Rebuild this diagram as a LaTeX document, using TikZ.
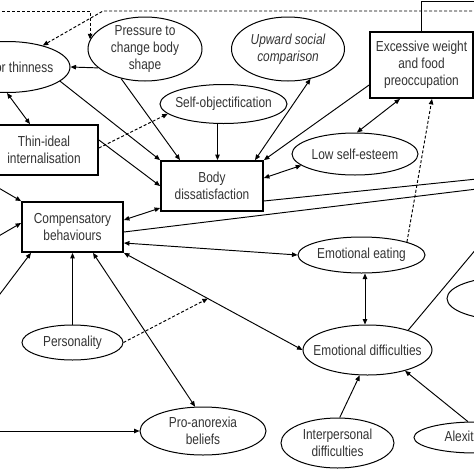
\documentclass[tikz,border=0pt]{standalone}
\usepackage{fontspec}
\setmainfont{Liberation Sans}[FakeStretch=0.82]
\usetikzlibrary{arrows.meta,shapes.geometric,calc}
\newcommand\dfont{\fontsize{14.5pt}{17pt}\selectfont}
\begin{document}
\begin{tikzpicture}[x=1pt,y=-1pt,
 boxn/.style={draw,rectangle,line width=1.8pt,inner sep=0pt,align=center,font=\dfont,text=black!80},
 elln/.style={draw,ellipse,line width=1pt,inner xsep=-30pt,inner ysep=-20pt,align=center,font=\dfont,text=black!80},
 arr/.style={line width=0.95pt,-{Triangle[length=5.5pt,width=4.5pt]}},
 darr/.style={line width=0.95pt,{Triangle[length=5.5pt,width=4.5pt]}-{Triangle[length=5.5pt,width=4.5pt]}},
 dsh/.style={dash pattern=on 3pt off 2pt},
 plainln/.style={line width=0.95pt}]
\useasboundingbox (0,0) rectangle (474,474);
\clip (0,0) rectangle (474,474);
\fill[white] (0,0) rectangle (474,474);

% nodes
\node[elln,minimum width=126pt,minimum height=51pt] (thin) at (7,67) {Drive for thinness};
\node[elln,minimum width=114pt,minimum height=64pt] (pressure) at (145,49) {Pressure to\\change body\\shape};
\node[elln,minimum width=113pt,minimum height=64pt,font=\dfont\itshape] (upward) at (288,49) {Upward social\\comparison};
\node[boxn,minimum width=103pt,minimum height=66pt] (excess) at (421.5,65) {Excessive weight\\and food\\preoccupation};
\node[elln,minimum width=127pt,minimum height=39pt] (selfobj) at (223.5,104) {Self-objectification};
\node[boxn,minimum width=108pt,minimum height=50pt] (thinideal) at (44,150) {Thin-ideal\\internalisation};
\node[boxn,minimum width=102pt,minimum height=50pt] (body) at (212,186) {Body\\dissatisfaction};
\node[elln,minimum width=126pt,minimum height=42pt] (lowse) at (355,154) {Low self-esteem};
\node[boxn,minimum width=101pt,minimum height=50pt] (comp) at (72.5,227) {Compensatory\\behaviours};
\node[elln,minimum width=127pt,minimum height=36pt] (emoeat) at (361.5,255) {Emotional eating};
\node[elln,minimum width=101pt,minimum height=35pt] (personality) at (72.5,342.5) {Personality};
\node[elln,minimum width=129pt,minimum height=50pt] (emodiff) at (367.5,350) {Emotional difficulties};
\node[elln,minimum width=126pt,minimum height=48pt] (proana) at (203,431) {Pro-anorexia\\beliefs};
\node[elln,minimum width=113pt,minimum height=50pt] (interp) at (337.5,443) {Interpersonal\\difficulties};
\node[elln,minimum width=122pt,minimum height=31pt] (alex) at (475,437.5) {Alexithymia};
\node[elln,minimum width=120pt,minimum height=43pt] (rightell) at (507,298.5) {};

% free ends
\coordinate (L1) at (-3,11);
\coordinate (c1) at (103,11);
\coordinate (R1) at (477,11);
\coordinate (R2) at (477,179);
\coordinate (R3) at (477,189);
\coordinate (R4) at (477,248);
\coordinate (R5) at (477,1.5);
\coordinate (L2) at (-3,431);
\coordinate (L3) at (-3,298);
\coordinate (L4) at (-3,237);
\coordinate (L5) at (-3,187);

% connectors
\draw[arr,dsh] (L1) -| (pressure.170);
\draw[arr,dsh] (R1) -- (c1) -- (thin.31);
\draw[plainln] (excess.north) |- (R5);
\draw[arr] (pressure.202) -- (thin.east);
\draw[darr] (thin.south) -- ([xshift=-14pt]thinideal.north);
\draw[arr] (thin.345.5) -- (body.north west);
\draw[arr] (pressure.231) -- ([xshift=-32pt]body.north);
\draw[arr] ([yshift=10pt]thinideal.east) -- (body.west);
\draw[arr,dsh] ([yshift=2pt]thinideal.east) -- (selfobj.190);
\draw[arr] ([xshift=-6pt]selfobj.south) -- ([xshift=-6pt]selfobj.south |- body.north);
\draw[darr] (upward.307.7) -- ([xshift=43pt]body.north);
\draw[arr] ([yshift=-20pt]excess.west) -- (body.north east);
\draw[darr] (lowse.192.6) -- ([yshift=8pt]body.east);
\draw[darr] (lowse.85) -- ([xshift=-21.5pt]excess.south);
\draw[arr,dsh] (emoeat.16) -- ([xshift=10.5pt]excess.south);
\draw[plainln] ([yshift=-15pt]body.east) -- (R2);
\draw[plainln] ([yshift=-5pt]comp.east) -- (R3);
\draw[darr] ([yshift=7pt]comp.east) -- ([yshift=-22pt]body.west);
\draw[darr] ([yshift=-16pt]comp.east) -- (emoeat.west);
\draw[darr] (comp.south east) -- (emodiff.west);
\path (comp.south east) -- (emodiff.west) coordinate[pos=0.47] (mod1);
\draw[arr,dsh] (personality.east) -- (mod1);
\draw[arr] (personality.north) -- (comp.south);
\draw[darr] (proana.108.4) -- ([xshift=20.5pt]comp.south);
\draw[arr] (L2) -- (proana.west);
\draw[arr] (L3) -- ([xshift=-41.5pt]comp.south);
\draw[arr] (L4) -- ([yshift=4pt]comp.west);
\draw[arr] (L5) -- (comp.north west);
\draw[darr] ([xshift=3.5pt]emoeat.south) -- ([xshift=3.5pt]emoeat.south |- emodiff.north);
\draw[arr] (interp.85) -- (emodiff.253.3);
\draw[arr] (alex.114.3) -- (emodiff.331.5);
\draw[plainln] (emodiff.26.9) -- (R4);
\end{tikzpicture}
\end{document}
